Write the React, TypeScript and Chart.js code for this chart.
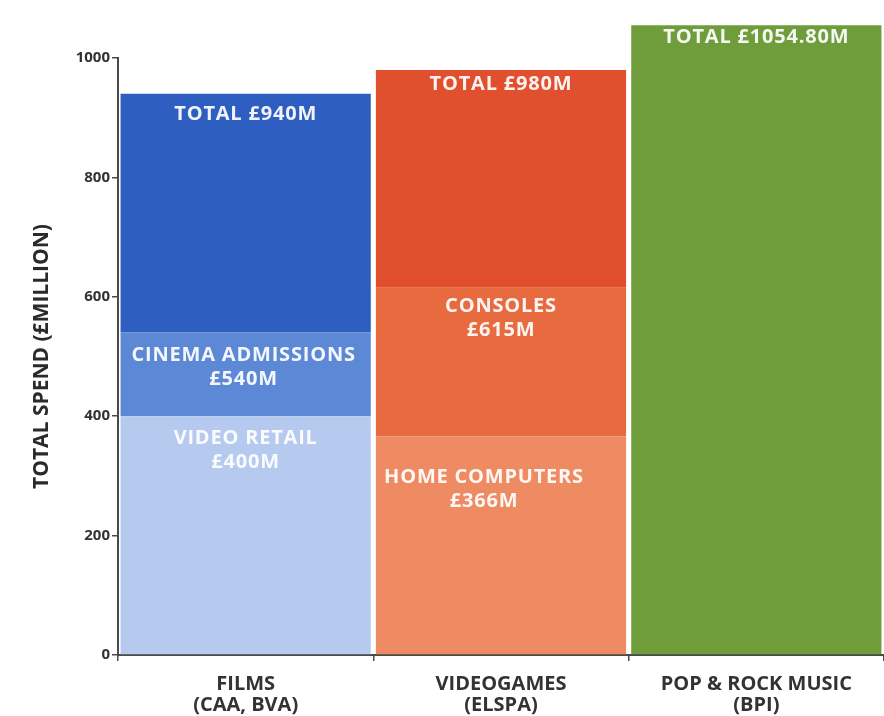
import React, { useEffect, useRef } from "react";
import { Chart, registerables } from "chart.js";

Chart.register(...registerables);

// Categories (two-line tick labels)
const categories: string[][] = [
  ["FILMS", "(CAA, BVA)"],
  ["VIDEOGAMES", "(ELSPA)"],
  ["POP & ROCK MUSIC", "(BPI)"],
];

// Segment boundaries as drawn (cumulative tops, £ million)
const filmsTops = [400, 540, 940];
const gamesTops = [366, 615, 980];
const musicTops = [1054.8];

// Segment labels (bottom to top)
const filmsLabels = [["VIDEO RETAIL", "£400M"], ["CINEMA ADMISSIONS", "£540M"], ["TOTAL £940M"]];
const gamesLabels = [["HOME COMPUTERS", "£366M"], ["CONSOLES", "£615M"], ["TOTAL £980M"]];
const musicLabels = [["TOTAL £1054.80M"]];

// Segment colours (bottom to top)
const filmsColors = ["#b5caee", "#5c88d6", "#2e5ec0"];
const gamesColors = ["#ee8b62", "#e86b40", "#e04f2e"];
const musicColors = ["#6f9d3b"];

const yTicks = [0, 200, 400, 600, 800, 1000];

const allTops = [filmsTops, gamesTops, musicTops];
const allLabels = [filmsLabels, gamesLabels, musicLabels];
const allColors = [filmsColors, gamesColors, musicColors];

// label placement (px below segment top, horizontal shift)
const labelOffsets = [
  [[22, 0], [23, -2], [20, 0]],
  [[41, -17], [18, 0], [14, 0]],
  [[12, 0]],
];

const FONT = "'Open Sans', 'Noto Sans', sans-serif";

const labelPlugin = {
  id: "segLabels",
  afterDatasetsDraw(chart: any) {
    const ctx = chart.ctx;
    ctx.save();
    ctx.fillStyle = "rgba(255,255,255,0.93)";
    ctx.textAlign = "center";
    ctx.textBaseline = "middle";
    ctx.font = `700 20px ${FONT}`;
    try { (ctx as any).letterSpacing = "0.8px"; } catch (e) {}
    allLabels.forEach((segs, i) => {
      segs.forEach((lines, k) => {
        const el = chart.getDatasetMeta(k).data[i];
        if (!el) return;
        const [dy, dx] = labelOffsets[i][k];
        lines.forEach((t, li) => {
          ctx.fillText(t, el.x + dx, el.y + dy + li * 24);
        });
      });
    });
    ctx.restore();
  },
};

export default function App() {
  const ref = useRef<HTMLCanvasElement>(null);
  useEffect(() => {
    if (!ref.current) return;
    const maxSegs = Math.max(...allTops.map((t) => t.length));
    const datasets = [];
    for (let k = 0; k < maxSegs; k++) {
      datasets.push({
        data: allTops.map((tops) =>
          tops[k] !== undefined ? [k === 0 ? 0 : tops[k - 1], tops[k]] : null
        ),
        backgroundColor: allColors.map((c) => c[k] || "transparent"),
        borderWidth: 0,
        grouped: false,
        barPercentage: 0.98,
        categoryPercentage: 1,
        clip: false,
      });
    }
    const chart = new Chart(ref.current, {
      type: "bar",
      data: { labels: categories, datasets: datasets as any },
      options: {
        animation: false,
        responsive: false,
        layout: { padding: { top: 58, left: 29, right: 0, bottom: 0 } },
        plugins: { legend: { display: false }, tooltip: { enabled: false } },
        scales: {
          x: {
            afterFit: (s: any) => { s.height = 61; },
            border: { display: true, color: "#4a4a4a", width: 2 },
            grid: { drawOnChartArea: false, drawTicks: true, tickLength: 6, color: "#4a4a4a", lineWidth: 1.5, offset: true },
            ticks: { color: "#333", font: { family: FONT, size: 20, weight: "bold", lineHeight: 1.05 }, padding: 13, maxRotation: 0, autoSkip: false },
          },
          y: {
            min: 0,
            max: 1000,
            afterFit: (s: any) => { s.width = 118 - 29; },
            afterBuildTicks: (s: any) => { s.ticks = yTicks.map((v) => ({ value: v })); },
            border: { display: true, color: "#4a4a4a", width: 2 },
            grid: { drawOnChartArea: false, drawTicks: true, tickLength: 6, color: "#4a4a4a", lineWidth: 1.5 },
            ticks: {
              color: "#333",
              font: { family: FONT, size: 15, weight: "bold" },
              padding: 2,
              callback: (v: any) => String(v),
            },
            title: {
              display: true,
              text: "TOTAL SPEND (£MILLION)",
              color: "#2a2a2a",
              font: { family: FONT, size: 21, weight: "bold", lineHeight: 1.2 },
              padding: 0,
            },
          },
        },
      },
      plugins: [labelPlugin],
    });
    return () => chart.destroy();
  }, []);
  return (
    <div style={{ position: "absolute", left: 0, top: 0, width: 884, height: 716, background: "#fff" }}>
      <canvas ref={ref} width={884} height={716} />
    </div>
  );
}
